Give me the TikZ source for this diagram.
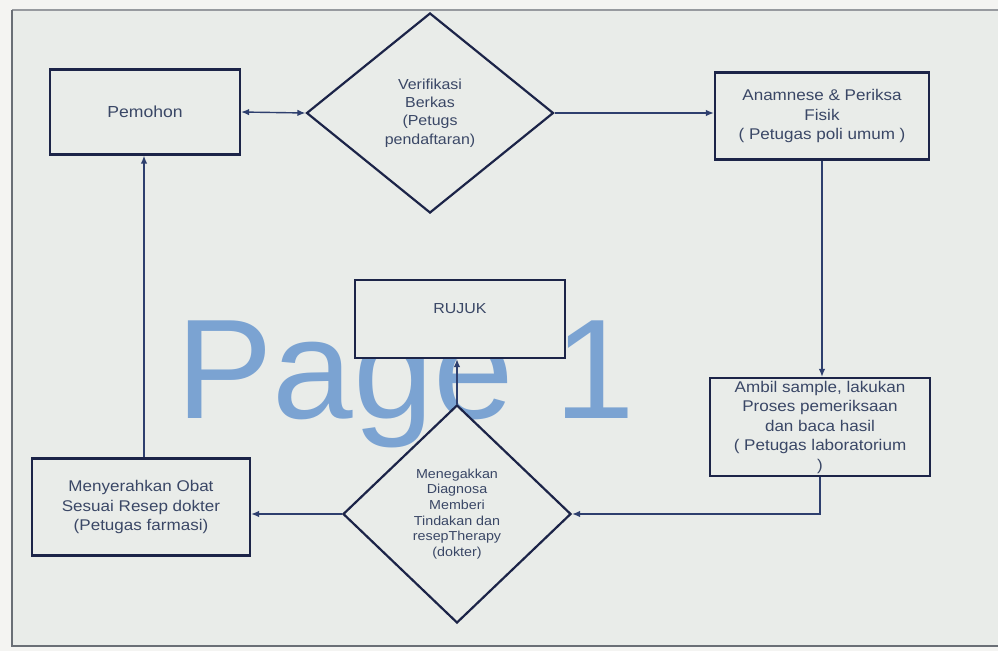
\documentclass[tikz,border=0pt]{standalone}
\usepackage{fontspec}
\setmainfont{Liberation Sans}[FakeStretch=1.1]
\usetikzlibrary{shapes.geometric,arrows.meta}
\definecolor{bgpaper}{HTML}{E9ECE9}
\definecolor{bgout}{HTML}{F4F4F2}
\definecolor{framec}{HTML}{6A6F76}
\definecolor{linec}{HTML}{1C2448}
\definecolor{connc}{HTML}{2E3F6E}
\definecolor{txtc}{HTML}{3A4766}
\definecolor{wmark}{HTML}{7BA3D2}
\tikzset{
  boxnode/.style={draw=linec, fill=bgpaper, line width=2.2pt, rectangle, inner sep=2pt, align=center,
    text=txtc, font=\fontsize{15.5}{19.5}\selectfont},
  decnode/.style={draw=linec, fill=bgpaper, line width=2.2pt, diamond, inner sep=0pt, align=center,
    text=txtc},
  conn/.style={draw=connc, line width=1.4pt, -{Latex[length=8pt,width=6.5pt]}},
  dconn/.style={draw=connc, line width=1.4pt, {Latex[length=8pt,width=6.5pt]}-{Latex[length=8pt,width=6.5pt]}},
}
\begin{document}
\begin{tikzpicture}[x=1pt,y=-1pt]
\useasboundingbox (0,0) rectangle (998,651);
% photo background / screen frame
\fill[bgout] (0,0) rectangle (998,651);
\fill[bgpaper] (12,10) rectangle (998,646);
\draw[framec!70, line width=1.2pt] (12,10) -- (998,10);
\draw[framec, line width=2pt] (12,10) -- (12,646) -- (998,646);
% watermark
\node[anchor=base west, inner sep=0pt, text=wmark,
  font=\fontsize{142}{142}\selectfont] (wm) at (176,418) {\addfontfeature{FakeStretch=1.0}\scalebox{1.02}[1]{Page 1}};
% nodes
\node[boxnode, minimum width=190pt, minimum height=85pt, font=\fontsize{16}{19.5}\selectfont] (pem) at (145,112) {Pemohon};
\node[decnode, minimum width=247pt, minimum height=200pt, font=\fontsize{14.5}{18.3}\selectfont] (ver) at (430,113)
  {Verifikasi\\Berkas\\(Petugs\\pendaftaran)};
\node[boxnode, minimum width=214pt, minimum height=87pt] (ana) at (822,116)
  {Anamnese \& Periksa\\Fisik\\( Petugas poli umum )};
\node[boxnode, minimum width=220pt, minimum height=98pt] (amb) at (820,427)
  {Ambil sample, lakukan\\Proses pemeriksaan\\dan baca hasil\\( Petugas laboratorium\\)};
\node[decnode, minimum width=228pt, minimum height=218pt, font=\fontsize{13}{15.7}\selectfont] (dok) at (457,514)
  {Menegakkan\\Diagnosa\\Memberi\\Tindakan dan\\resepTherapy\\(dokter)};
\node[boxnode, minimum width=210pt, minimum height=78pt, font=\fontsize{14.5}{18}\selectfont, text depth=21pt] (ruj) at (460,319) {RUJUK};
\node[boxnode, minimum width=218pt, minimum height=97pt] (obat) at (141,507)
  {Menyerahkan Obat\\Sesuai Resep dokter\\(Petugas farmasi)};
% connectors
\draw[dconn] (pem.east) -- (ver.west);
\draw[conn] (ver.east) -- (ver.east -| ana.west);
\draw[conn] (ana.south) -- (ana.south |- amb.north);
\draw[conn] (amb.south) |- (dok.east);
\draw[conn] (dok.north) -- (dok.north |- ruj.south);
\draw[conn] (dok.west) -- (dok.west -| obat.east);
\draw[conn] ([xshift=3pt]obat.north) -- ([xshift=3pt]obat.north |- pem.south);
\end{tikzpicture}
\end{document}
